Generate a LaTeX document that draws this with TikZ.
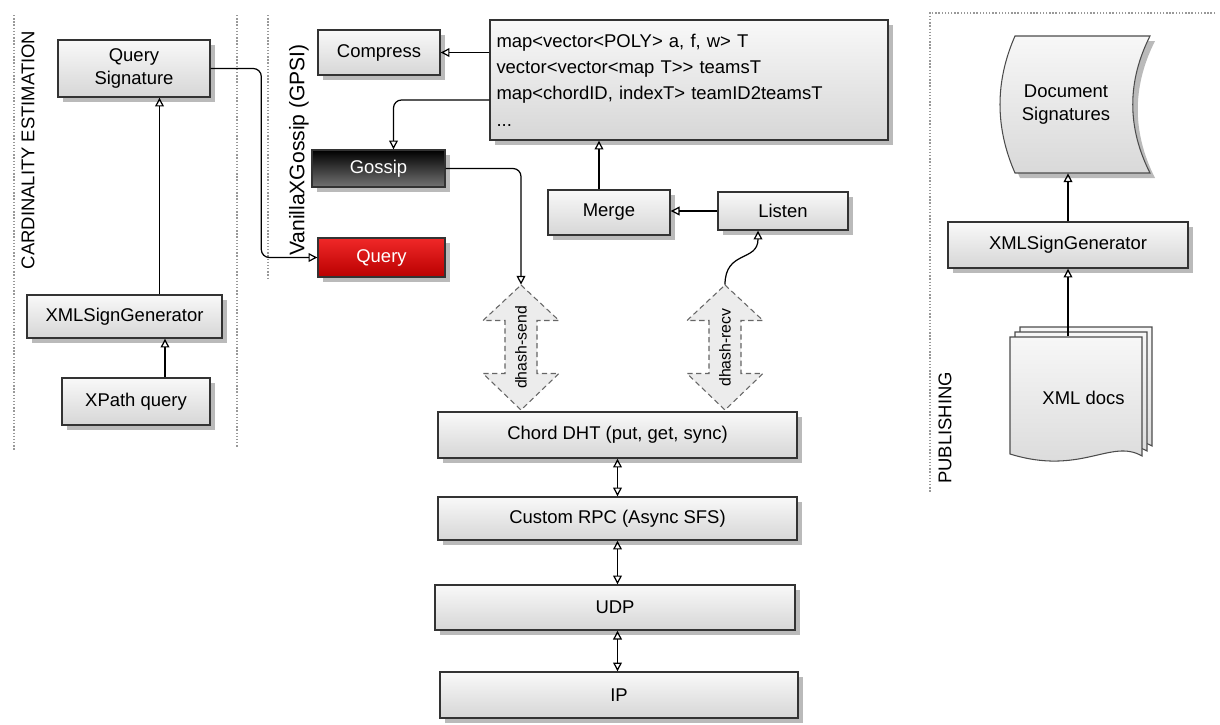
\documentclass[tikz,border=0pt]{standalone}
\usepackage{fontspec}
\setmainfont{Liberation Sans}
\usepackage{graphicx}
\usetikzlibrary{arrows.meta,shadows,backgrounds}

\definecolor{queryred}{RGB}{240,40,40}
\definecolor{querydark}{RGB}{185,0,0}

\tikzset{
  block/.style={draw=black!80, line width=0.8pt, top color=gray!5, bottom color=gray!32,
    drop shadow={shadow xshift=1mm, shadow yshift=-1mm, fill=black!45, opacity=0.6},
    align=center, inner sep=2pt},
  darkblock/.style={block, top color=black, bottom color=black!55, text=white},
  redblock/.style={block, top color=queryred, bottom color=querydark, text=white},
  link/.style={-{Triangle[open, length=5pt, width=5pt]}, line width=0.7pt},
  twoway/.style={{Triangle[open, length=5pt, width=5pt]}-{Triangle[open, length=5pt, width=5pt]}, line width=0.7pt},
  region/.style={draw=gray!80, densely dotted, line width=0.8pt},
  sidelabel/.style={rotate=90},
  fatarrow/.style={fill=gray!15, draw=black!60, densely dashed, line width=0.6pt},
  page/.style={draw=black!70, line width=0.6pt, top color=gray!6, bottom color=gray!30},
}

\begin{document}
\begin{tikzpicture}[x=0.2mm, y=-0.2mm, font=\fontsize{10.5}{13}\selectfont]
  \useasboundingbox (0,0) rectangle (1220,724);

  % regions
  \draw[region] (14,15) -- (14,450);
  \draw[region] (237,15) -- (237,447);
  \draw[region] (268,15) -- (268,280);
  \draw[region] (1215,13) -- (930,13) -- (930,492);
  \node[sidelabel] (cardlbl) at (28,150) {CARDINALITY ESTIMATION};
  \node[sidelabel, font=\fontsize{12}{14}\selectfont] (gossiplbl) at (299,150) {VanillaXGossip (GPSI)};
  \node[sidelabel] (publbl) at (945,428) {PUBLISHING};

  % cardinality estimation
  \node[block, minimum width=30.4mm, minimum height=11.4mm] (qsig) at (134,68.5) {Query\\Signature};
  \node[block, minimum width=39mm, minimum height=8.6mm] (xmlgenL) at (124.5,316.5) {XMLSignGenerator};
  \node[block, minimum width=29.6mm, minimum height=9.4mm] (xpath) at (136,401.5) {XPath query};

  % gossip
  \node[block, minimum width=24.4mm, minimum height=9mm] (compress) at (379,52.5) {Compress};
  \node[block, minimum width=79.6mm, minimum height=24mm, align=left, text width=77mm,
    font=\fontsize{10.5}{15}\selectfont] (state) at (689,80)
    {map<vector<POLY> a, f, w> T\\vector<vector<map T>{}> teamsT\\map<chordID, indexT> teamID2teamsT\\...};
  \node[darkblock, minimum width=26.6mm, minimum height=7.4mm] (gossip) at (378.5,168.5) {Gossip};
  \node[redblock, minimum width=25.4mm, minimum height=7.8mm] (query) at (381.5,257.5) {Query};
  \node[block, minimum width=24.4mm, minimum height=9mm] (merge) at (609,212.5) {Merge};
  \node[block, minimum width=26mm, minimum height=7.6mm] (listen) at (783,211) {Listen};

  % transport stack
  \node[minimum width=15.2mm, minimum height=25mm, inner sep=0pt] (send) at (521,347.5)
    {\rotatebox{90}{\fontsize{9}{10}\selectfont dhash-send}};
  \node[minimum width=15.2mm, minimum height=25mm, inner sep=0pt] (recv) at (725,347.5)
    {\rotatebox{90}{\fontsize{9}{10}\selectfont dhash-recv}};
  \begin{scope}[on background layer]
    \foreach \arr in {send, recv} {
      \path[fatarrow, shift={(\arr.center)}] (0,-62.5) -- (38,-27) -- (16,-27) -- (16,26) -- (38,26)
        -- (0,62.5) -- (-38,26) -- (-16,26) -- (-16,-27) -- (-38,-27) -- cycle;
    }
  \end{scope}
  \node[block, minimum width=71.8mm, minimum height=9.2mm] (chord) at (617.5,435) {Chord DHT (put, get, sync)};
  \node[block, minimum width=71.8mm, minimum height=8.6mm] (rpc) at (617.5,518.5) {Custom RPC (Async SFS)};
  \node[block, minimum width=72mm, minimum height=9mm] (udp) at (615,607.5) {UDP};
  \node[block, minimum width=71.6mm, minimum height=9.2mm] (ip) at (619,695) {IP};

  % publishing
  \node[minimum width=26.6mm, minimum height=27.4mm, inner sep=0pt, align=center] (docsig) at (1066,104.5)
    {Document\\Signatures};
  \node[block, minimum width=48mm, minimum height=9.2mm] (xmlgenR) at (1068,245) {XMLSignGenerator};
  \node[minimum width=26.4mm, minimum height=24.6mm, inner sep=0pt] (xmldocs) at (1076,398)
    {\hspace*{3mm}XML docs};
  \begin{scope}[on background layer]
    \path[page, drop shadow={shadow xshift=1mm, shadow yshift=-1mm, fill=black!45, opacity=0.6},
      shift={(docsig.center)}]
      (-51,-68.5) -- (84,-68.5) .. controls (61,-23) and (61,23) .. (84,68.5)
      -- (-51,68.5) .. controls (-71,23) and (-71,-23) .. (-51,-68.5) -- cycle;
    \foreach \d in {10,5,0} {
      \path[page, shift={(xmldocs.center)}, shift={(\d,-\d)}]
        (-66,-61) -- (66,-61) -- (66,58) .. controls (35,40) and (5,78) .. (-66,56) -- cycle;
    }
  \end{scope}

  % connectors
  \draw[link] ([xshift=5.8mm]xpath.north) -- ([xshift=5.8mm]xpath.north |- xmlgenL.south);
  \draw[link] ([xshift=7mm]xmlgenL.north) -- ([xshift=7mm]xmlgenL.north |- qsig.south);
  \draw[link, rounded corners=1.6mm] (qsig.east) -| ([xshift=-11.2mm]query.west) -- (query.west);
  \draw[link] (state.west |- compress.east) -- (compress.east);
  \draw[link, rounded corners=1.6mm] ([yshift=-4mm]state.west) -| ([xshift=3mm]gossip.north);
  \draw[link, rounded corners=1.6mm] (gossip.east) -| (send.north);
  \draw[link] ([xshift=-2mm]merge.north) -- ([xshift=-2mm]merge.north |- state.south);
  \draw[link] (listen.west) -- (listen.west -| merge.east);
  \draw[link] (recv.north) .. controls (725,250) and (758,262) .. ([xshift=-5mm]listen.south);
  \draw[twoway] (chord.south) -- (chord.south |- rpc.north);
  \draw[twoway] (rpc.south) -- (rpc.south |- udp.north);
  \draw[twoway] (udp.south -| rpc.south) -- (rpc.south |- ip.north);
  \draw[link] (xmlgenR.south |- xmldocs.north) -- (xmlgenR.south);
  \draw[link] (xmlgenR.north) -- (xmlgenR.north |- docsig.south);
\end{tikzpicture}
\end{document}
